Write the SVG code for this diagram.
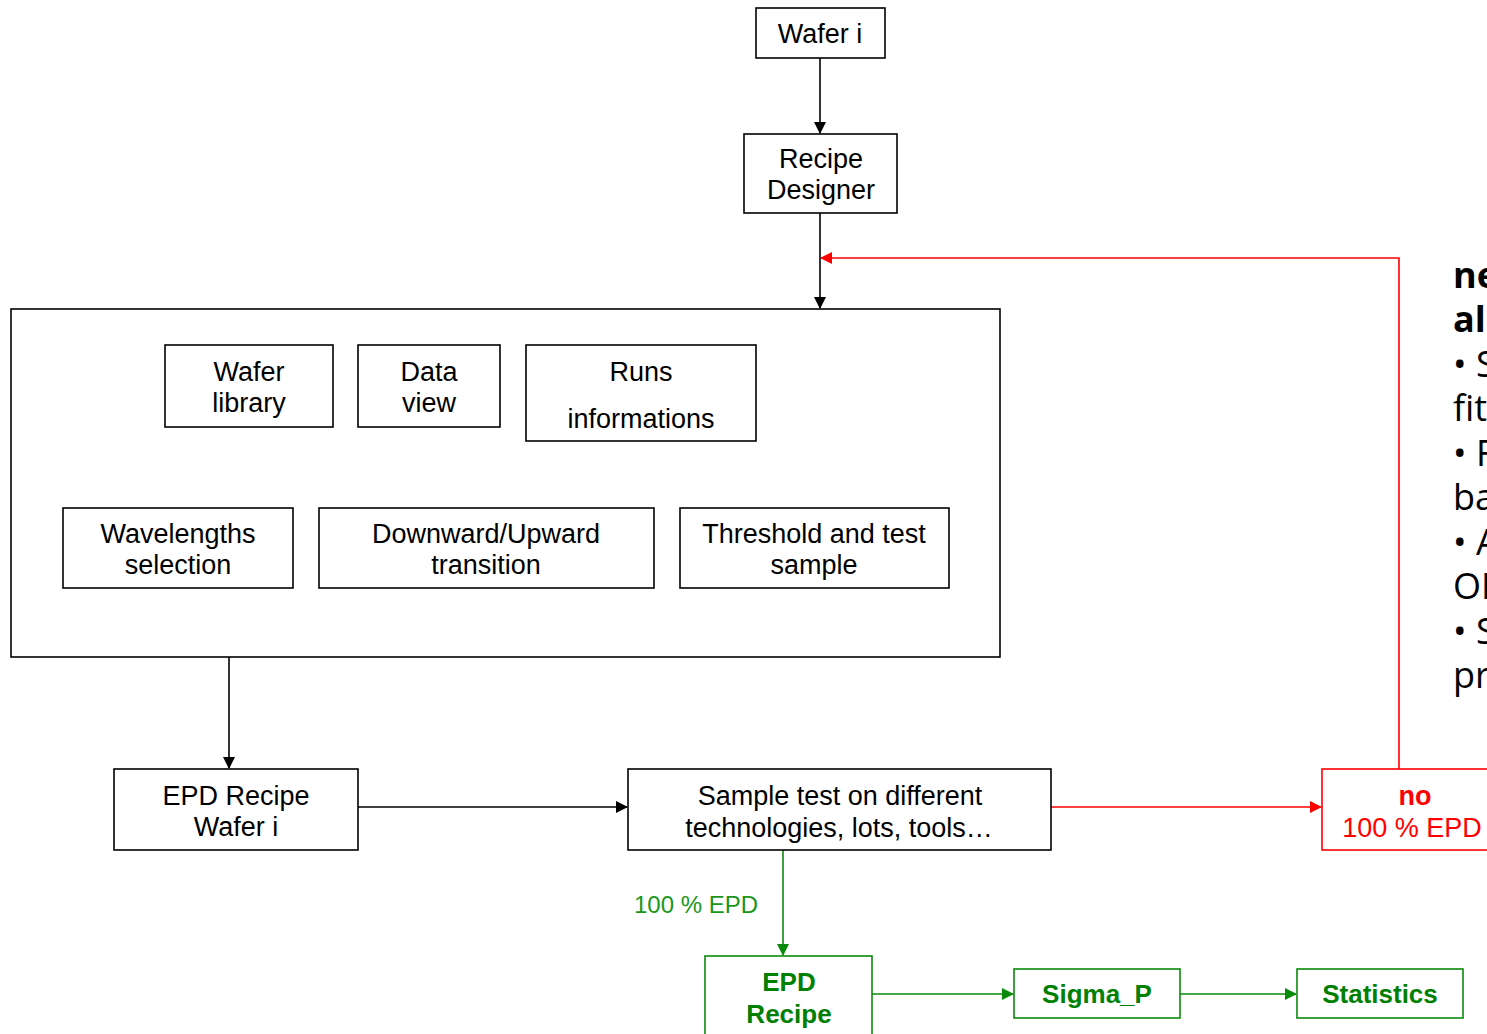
<svg xmlns="http://www.w3.org/2000/svg" width="1487" height="1034" viewBox="0 0 1487 1034">
<defs>
<style>
.bx{fill:#fff;stroke:#000;stroke-width:1.6}
.rb{fill:#fff;stroke:#ff0000;stroke-width:1.6}
.gb{fill:#fff;stroke:#0a8a0a;stroke-width:1.6}
.t{font-family:"Liberation Sans",Arial,sans-serif;font-size:27px;fill:#000;text-anchor:middle}
.tr{font-family:"Liberation Sans",Arial,sans-serif;font-size:27px;fill:#ff0000;text-anchor:middle}
.tg{font-family:"Liberation Sans",Arial,sans-serif;font-size:26px;font-weight:bold;fill:#008000;text-anchor:middle}
.side{font-family:"Open Sans","Noto Sans",sans-serif;font-size:36px;fill:#000}
.k{fill:none;stroke:#000;stroke-width:1.6}
.r{fill:none;stroke:#ff0000;stroke-width:1.6}
.g{fill:none;stroke:#0a8a0a;stroke-width:1.6}
</style>
<marker id="ak" markerWidth="12" markerHeight="12" refX="11" refY="6" orient="auto" markerUnits="userSpaceOnUse"><path d="M0,0 L12,6 L0,12 Z" fill="#000"/></marker>
<marker id="ar" markerWidth="12" markerHeight="12" refX="11" refY="6" orient="auto" markerUnits="userSpaceOnUse"><path d="M0,0 L12,6 L0,12 Z" fill="#ff0000"/></marker>
<marker id="ag" markerWidth="12" markerHeight="12" refX="11" refY="6" orient="auto" markerUnits="userSpaceOnUse"><path d="M0,0 L12,6 L0,12 Z" fill="#0a8a0a"/></marker>
</defs>
<rect width="1487" height="1034" fill="#fff"/>

<g id="connectors">
<line class="k" x1="820" y1="58" x2="820" y2="133" marker-end="url(#ak)"/>
<line class="k" x1="820" y1="213" x2="820" y2="308" marker-end="url(#ak)"/>
<polyline class="r" points="1399,769 1399,258 821,258" marker-end="url(#ar)"/>
<line class="k" x1="229" y1="657" x2="229" y2="768" marker-end="url(#ak)"/>
<line class="k" x1="358" y1="807" x2="627" y2="807" marker-end="url(#ak)"/>
<line class="r" x1="1051" y1="807" x2="1321" y2="807" marker-end="url(#ar)"/>
<line class="g" x1="783" y1="850" x2="783" y2="955" marker-end="url(#ag)"/>
<line class="g" x1="872" y1="994" x2="1013" y2="994" marker-end="url(#ag)"/>
<line class="g" x1="1180" y1="994" x2="1296" y2="994" marker-end="url(#ag)"/>
<text x="634" y="913" font-family="Liberation Sans, Arial, sans-serif" font-size="24" fill="#1a961a">100 % EPD</text>
</g>

<g id="wafer-i"><rect class="bx" x="756" y="8" width="129" height="50"/><text class="t" x="820" y="43">Wafer i</text></g>
<g id="recipe-designer"><rect class="bx" x="744" y="134" width="153" height="79"/><text class="t" x="821" y="168">Recipe</text><text class="t" x="821" y="199">Designer</text></g>
<g id="recipe-designer-panel"><rect class="bx" x="11" y="309" width="989" height="348"/></g>
<g id="wafer-library"><rect class="bx" x="165" y="345" width="168" height="82"/><text class="t" x="249" y="381">Wafer</text><text class="t" x="249" y="412">library</text></g>
<g id="data-view"><rect class="bx" x="358" y="345" width="142" height="82"/><text class="t" x="429" y="381">Data</text><text class="t" x="429" y="412">view</text></g>
<g id="runs-informations"><rect class="bx" x="526" y="345" width="230" height="96"/><text class="t" x="641" y="381">Runs</text><text class="t" x="641" y="428">informations</text></g>
<g id="wavelengths-selection"><rect class="bx" x="63" y="508" width="230" height="80"/><text class="t" x="178" y="543">Wavelengths</text><text class="t" x="178" y="574">selection</text></g>
<g id="downward-upward"><rect class="bx" x="319" y="508" width="335" height="80"/><text class="t" x="486" y="543">Downward/Upward</text><text class="t" x="486" y="574">transition</text></g>
<g id="threshold"><rect class="bx" x="680" y="508" width="269" height="80"/><text class="t" x="814" y="543">Threshold and test</text><text class="t" x="814" y="574">sample</text></g>
<g id="epd-recipe-wafer-i"><rect class="bx" x="114" y="769" width="244" height="81"/><text class="t" x="236" y="805">EPD Recipe</text><text class="t" x="236" y="836">Wafer i</text></g>
<g id="sample-test"><rect class="bx" x="628" y="769" width="423" height="81"/><text class="t" x="840" y="805">Sample test on different</text><text class="t" x="839" y="837">technologies, lots, tools…</text></g>
<g id="no-100-epd"><rect class="rb" x="1322" y="769" width="180" height="81"/><text class="tr" x="1415" y="805" font-weight="bold">no</text><text class="tr" x="1412" y="837">100 % EPD</text></g>
<g id="epd-recipe"><rect class="gb" x="705" y="956" width="167" height="90"/><text class="tg" x="789" y="991">EPD</text><text class="tg" x="789" y="1023">Recipe</text></g>
<g id="sigma-p"><rect class="gb" x="1014" y="969" width="166" height="49"/><text class="tg" x="1097" y="1003">Sigma_P</text></g>
<g id="statistics"><rect class="gb" x="1297" y="969" width="166" height="49"/><text class="tg" x="1380" y="1003">Statistics</text></g>

<g id="side-text">
<text class="side" x="1453" y="288" font-weight="bold">ne</text>
<text class="side" x="1453" y="332" font-weight="bold">al</text>
<text class="side" x="1453" y="377">• S</text>
<text class="side" x="1453" y="421">fit</text>
<text class="side" x="1453" y="466">• F</text>
<text class="side" x="1453" y="510">ba</text>
<text class="side" x="1453" y="555">• A</text>
<text class="side" x="1453" y="599">OI</text>
<text class="side" x="1453" y="644">• S</text>
<text class="side" x="1453" y="688">pr</text>
</g>
</svg>
